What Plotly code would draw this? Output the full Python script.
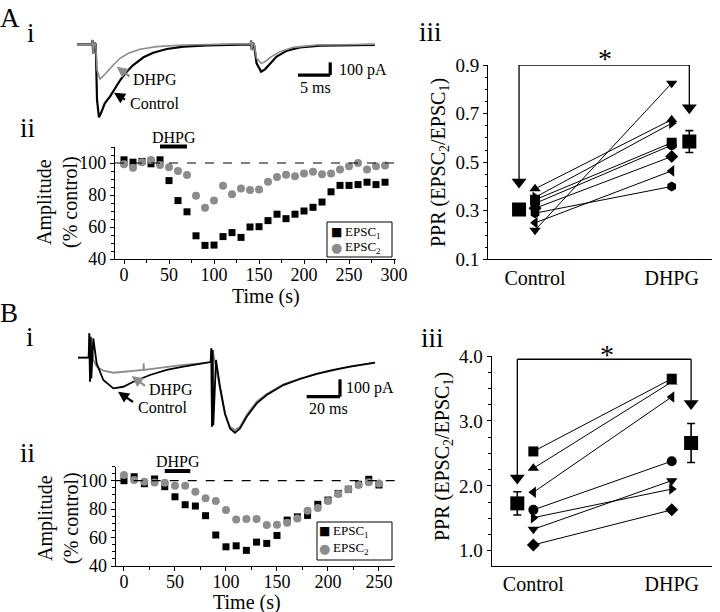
import plotly.graph_objects as go

W, H = 720, 612
def fx(p): return p / W
def fy(p): return 1 - p / H

SERIF = "Liberation Serif"
GRAY = "#8c8c8c"

# ---------------- A i : example EPSC pair (ms, pA) ----------------
ai_ctrl_t = [0, 2.3, 2.4, 2.5, 2.7, 2.9, 3.1, 3.4, 3.7, 4.3, 5.1, 5.9, 6.7, 7.7, 8.7, 10.3, 11.8, 13.9, 16.5, 20.1,
             24.2, 26.9, 26.95, 27.05, 27.2, 27.4, 27.8, 28.5, 29.1, 29.9, 30.9, 32.5, 34.5, 37.6, 42.3, 46.1]
ai_ctrl_i = [0, 0, 34, -71, 13, 0, -438, -575, -543, -465, -412, -347, -281, -215, -163, -102, -66, -37, -18, -8,
             -3, 0, 29, -45, 13, 0, -150, -215, -197, -150, -97, -50, -24, -10, -5, -5]
ai_dhpg_t = [0, 2.3, 2.4, 2.5, 2.7, 2.9, 3.1, 3.56, 4.08, 4.85, 5.62, 6.66, 7.95, 9.75, 12.3, 16.5, 24.2, 26.9, 26.95, 27.05,
             27.2, 27.4, 27.8, 28.5, 29.1, 30.1, 31.4, 33.5, 37.1, 46.1]
ai_dhpg_i = [0, 0, 34, -71, 13, 0, -202, -273, -249, -202, -163, -110, -71, -39, -18, -5, 3, 5, 29, -45,
             13, 5, -110, -150, -137, -97, -58, -24, -5, 0]

# ---------------- B i : example EPSC pair (ms, pA) ----------------
bi_ctrl_t = [0, 6.4, 6.8, 7.2, 7.6, 8.0, 9.2, 11.2, 15.2, 21.2, 27.2, 33.2, 43.2, 53.2, 63.2, 73.2, 79.6, 80.0, 80.4, 80.8,
             81.2, 82.8, 85.2, 88.2, 91.2, 94.2, 97.2, 101.2, 107.2, 113.2, 123.2, 133.2, 143.2, 153.2, 163.2, 178.2]
bi_ctrl_i = [0, 0, 141, -139, 121, -120, 112, -33, -129, -177, -168, -139, -100, -71, -52, -37, -25, 54, -399, 44,
             -390, -13, -168, -322, -409, -434, -409, -341, -264, -216, -158, -123, -94, -71, -52, -29]
bi_dhpg_t = [0, 6.4, 6.8, 7.2, 7.6, 9.2, 11.2, 15.2, 21.2, 33.2, 39.2, 39.4, 39.6, 43.2, 53.2, 63.2, 73.2, 79.6, 80.0, 80.4,
             80.8, 82.8, 85.2, 88.2, 91.2, 94.2, 97.2, 101.2, 107.2, 113.2, 123.2, 133.2, 143.2, 153.2, 163.2, 178.2]
bi_dhpg_i = [0, 0, 141, -139, 121, -13, -52, -75, -87, -79, -71, -33, -71, -66, -52, -42, -33, -25, 54, -399,
             44, -52, -187, -331, -399, -418, -399, -331, -254, -210, -154, -121, -94, -71, -52, -29]

# scale bars (ms, pA)
scale_A = dict(ms=5, pA=100)
scale_B = dict(ms=20, pA=100)

# ---------------- A ii : time course ----------------
time_A = [0, 10, 20, 30, 40, 50, 60, 70, 80, 90, 100, 110, 120, 130, 140, 150, 160, 170, 180, 190,
          200, 210, 220, 230, 240, 250, 260, 270, 280, 290]
epsc1_A = [102, 100.5, 101, 99.5, 102, 89, 76.5, 69.5, 54.5, 48.5, 48.7, 54, 56.5, 53.5, 60, 60.2, 64, 68, 65.2, 68,
           70, 72.3, 75.6, 82, 86, 86, 86.5, 88, 86.5, 88]
epsc2_A = [99.2, 97, 100.4, 101.9, 98.7, 97.3, 95, 92.5, 79.6, 72, 76.5, 85.8, 80.4, 84, 83.1, 83.5, 88.3, 91.2, 92.7, 91.7,
           93.5, 94.6, 92.9, 93.5, 96, 98, 100, 96, 98, 98.5]
dhpg_window_A = [40, 70]

# ---------------- B ii : time course ----------------
time_B = [0, 10, 20, 30, 40, 50, 60, 70, 80, 90, 100, 110, 120, 130, 140, 150, 160, 170, 180, 190,
          200, 210, 220, 230, 240, 250]
epsc1_B = [100, 102.8, 97.9, 101.2, 95.8, 88.7, 83.1, 82.2, 75.4, 61.8, 53.5, 54.2, 51, 56.8, 55.9, 61.5, 72.3, 74.6, 75.6, 83.4,
           86.4, 91.1, 94, 97.5, 101, 97]
epsc2_B = [104, 100.5, 99.3, 98.8, 98.6, 96.5, 96.5, 92.3, 87.6, 85.7, 79.4, 72.8, 73, 73, 68.8, 69.1, 70.5, 73.5, 78.8, 80.8,
           85.7, 90.6, 94, 97, 99, 98]
dhpg_window_B = [40, 65]

series_names = ["EPSC<sub>1</sub>", "EPSC<sub>2</sub>"]

# ---------------- A iii : PPR ----------------
symbols_A = ["triangle-up", "triangle-right", "square", "circle", "diamond", "hexagon", "triangle-left", "triangle-down"]
ppr_ctrl_A = [0.39, 0.355, 0.345, 0.33, 0.31, 0.29, 0.25, 0.22]
ppr_dhpg_A = [0.675, 0.66, 0.58, 0.57, 0.523, 0.40, 0.464, 0.825]
mean_A = [0.305, 0.585]
sem_A = [0.02, 0.045]

# ---------------- B iii : PPR ----------------
symbols_B = ["square", "triangle-up", "triangle-left", "circle", "triangle-right", "triangle-down", "diamond"]
ppr_ctrl_B = [2.53, 2.27, 1.9, 1.63, 1.51, 1.33, 1.09]
ppr_dhpg_B = [3.65, 3.6, 3.37, 2.38, 1.95, 2.08, 1.63]
mean_B = [1.73, 2.66]
sem_B = [0.18, 0.30]

groups = ["Control", "DHPG"]

fig = go.Figure()

def line_trace(t, i, color, width, xa, ya):
    fig.add_trace(go.Scatter(x=t, y=i, mode="lines", line=dict(color=color, width=width),
                             xaxis=xa, yaxis=ya, showlegend=False, hoverinfo="skip"))

# A i / B i traces
line_trace(ai_ctrl_t, ai_ctrl_i, "black", 2.2, "x", "y")
line_trace(ai_dhpg_t, ai_dhpg_i, GRAY, 1.6, "x", "y")
line_trace(bi_dhpg_t, bi_dhpg_i, GRAY, 1.8, "x4", "y4")
line_trace(bi_ctrl_t, bi_ctrl_i, "black", 1.8, "x4", "y4")

# time courses
for (t, e1, e2, xa, ya) in [(time_A, epsc1_A, epsc2_A, "x2", "y2"),
                            (time_B, epsc1_B, epsc2_B, "x5", "y5")]:
    fig.add_trace(go.Scatter(x=t, y=e1, mode="markers", name=series_names[0],
                             marker=dict(symbol="square", size=7, color="black"),
                             xaxis=xa, yaxis=ya, showlegend=False, cliponaxis=False))
    fig.add_trace(go.Scatter(x=t, y=e2, mode="markers", name=series_names[1],
                             marker=dict(symbol="circle", size=8, color=GRAY),
                             xaxis=xa, yaxis=ya, showlegend=False, cliponaxis=False))

# PPR panels
def ppr_panel(ctrl, dhpg, syms, means, sems, xa, ya, mean_x):
    xs, ys = [], []
    for c, d in zip(ctrl, dhpg):
        xs += [1, 2, None]
        ys += [c, d, None]
    fig.add_trace(go.Scatter(x=xs, y=ys, mode="lines", line=dict(color="black", width=1),
                             xaxis=xa, yaxis=ya, showlegend=False, hoverinfo="skip"))
    for c, d, s in zip(ctrl, dhpg, syms):
        fig.add_trace(go.Scatter(x=[1, 2], y=[c, d], mode="markers",
                                 marker=dict(symbol=s, size=10, color="black"),
                                 xaxis=xa, yaxis=ya, showlegend=False, cliponaxis=False))
    fig.add_trace(go.Scatter(x=mean_x, y=means, mode="markers",
                             marker=dict(symbol="square", size=14, color="black"),
                             error_y=dict(type="data", array=sems, color="black", thickness=1.6, width=4),
                             xaxis=xa, yaxis=ya, showlegend=False, cliponaxis=False))

ppr_panel(ppr_ctrl_A, ppr_dhpg_A, symbols_A, mean_A, sem_A, "x3", "y3", [0.883, 2.129])
ppr_panel(ppr_ctrl_B, ppr_dhpg_B, symbols_B, mean_B, sem_B, "x6", "y6", [0.884, 2.14])

shapes = []
def bracket(xa, ya, xc, xd, top, yc, yd):
    for (x0, y0, x1, y1) in [(xc, yc, xc, top), (xc, top, xd, top), (xd, top, xd, yd)]:
        shapes.append(dict(type="line", xref=xa, yref=ya, x0=x0, y0=y0, x1=x1, y1=y1,
                           line=dict(color="black", width=1.3)))
    fig.add_trace(go.Scatter(x=[xc, xd], y=[yc, yd], mode="markers",
                             marker=dict(symbol="triangle-down", size=13, color="black"),
                             xaxis=xa, yaxis=ya, showlegend=False, cliponaxis=False))

bracket("x3", "y3", 0.883, 2.129, 0.9, 0.418, 0.724)
bracket("x6", "y6", 0.884, 2.14, 3.95, 2.12, 3.27)

# dashed 100% lines and DHPG bars
for xa, ya in [("x2", "y2"), ("x5", "y5")]:
    shapes.append(dict(type="line", xref=xa + " domain", yref=ya, x0=0, x1=1, y0=100, y1=100,
                       line=dict(color="black", width=1.2, dash="dash")))
shapes.append(dict(type="line", xref="x2", yref="paper", x0=dhpg_window_A[0], x1=dhpg_window_A[1],
                   y0=fy(146.5), y1=fy(146.5), line=dict(color="black", width=4)))
shapes.append(dict(type="line", xref="x5", yref="paper", x0=dhpg_window_B[0], x1=dhpg_window_B[1],
                   y0=fy(471), y1=fy(471), line=dict(color="black", width=4)))

# legend boxes
shapes.append(dict(type="rect", xref="paper", yref="paper", x0=fx(327), x1=fx(392), y0=fy(257), y1=fy(222),
                   line=dict(color="black", width=1), fillcolor="white", layer="below"))
shapes.append(dict(type="rect", xref="paper", yref="paper", x0=fx(317), x1=fx(392), y0=fy(560), y1=fy(522),
                   line=dict(color="black", width=1), fillcolor="white", layer="below"))

# scale bars
def scalebar(xa, ya, x_end, y0, sb):
    shapes.append(dict(type="line", xref=xa, yref=ya, x0=x_end - sb["ms"], x1=x_end, y0=y0, y1=y0,
                       line=dict(color="black", width=3.2)))
    shapes.append(dict(type="line", xref=xa, yref=ya, x0=x_end, x1=x_end, y0=y0, y1=y0 + sb["pA"],
                       line=dict(color="black", width=3.2)))

scalebar("x", "y", 39.2, -242, scale_A)
scalebar("x4", "y4", 157.2, -225, scale_B)

ann = []
def text(x, y, s, size=20, xanchor="center", angle=0, color="black", family=SERIF):
    ann.append(dict(x=fx(x), y=fy(y), xref="paper", yref="paper", text=s, showarrow=False,
                    xanchor=xanchor, yanchor="middle", textangle=angle,
                    font=dict(family=family, size=size, color=color)))

def data_text(x, y, xr, yr, s, xanchor="center"):
    ann.append(dict(x=x, y=y, xref=xr, yref=yr, text=s, showarrow=False, xanchor=xanchor, yanchor="middle",
                    font=dict(family=SERIF, size=16, color="black")))

def arrow(hx, hy, tx, ty, color):
    ann.append(dict(x=fx(hx), y=fy(hy), xref="paper", yref="paper", text="", showarrow=True,
                    ax=tx - hx, ay=ty - hy, arrowhead=2, arrowsize=1, arrowwidth=2.2, arrowcolor=color))

# panel labels
text(10, 18, "A", 27)
text(31, 33, "i", 27)
text(27, 128, "ii", 27)
text(430, 32, "iii", 27)
text(9, 313, "B", 27)
text(30, 337, "i", 27)
text(27, 453, "ii", 27)
text(432, 338, "iii", 27)

# A i labels
text(155, 80, "DHPG", 16)
text(154, 103, "Control", 16)
arrow(116.7, 66.7, 131, 77.5, GRAY)
arrow(114, 92.7, 126.5, 100.5, "black")
data_text(40.2, -202, "x", "y", "100 pA", "left")
data_text(34.2, -337, "x", "y", "5 ms", "left")

# B i labels
text(171, 389, "DHPG", 16)
text(162, 407, "Control", 16)
arrow(131.7, 376, 146.5, 387, GRAY)
arrow(118, 391.7, 134.5, 403, "black")
data_text(159.5, -175, "x4", "y4", "100 pA", "left")
data_text(137.2, -291, "x4", "y4", "20 ms", "left")

# DHPG bar labels
data_text(sum(dhpg_window_A) / 2, fy(137), "x2", "paper", "DHPG")
data_text(sum(dhpg_window_B) / 2, fy(461.5), "x5", "paper", "DHPG")

# legend entries
for (mx, tx, y1, y2) in [(336, 343, 232, 247), (324, 331, 531, 548)]:
    text(mx, y1, "■", 12, family="DejaVu Sans")
    text(mx, y2, "●", 13, family="DejaVu Sans", color=GRAY)
    text(tx, y1, series_names[0], 13, xanchor="left")
    text(tx, y2, series_names[1], 13, xanchor="left")

# axis titles
text(58, 202, "Amplitude<br>(% control)", 20, angle=-90)
text(58, 518, "Amplitude<br>(% control)", 20, angle=-90)
text(266, 296, "Time (s)", 20)
text(247, 602, "Time (s)", 20)
text(440, 163, "PPR (EPSC<sub>2</sub>/EPSC<sub>1</sub>)", 20, angle=-90)
text(443, 457, "PPR (EPSC<sub>2</sub>/EPSC<sub>1</sub>)", 20, angle=-90)

# asterisks
text(605, 59, "*", 28)
text(607, 354, "*", 28)

tickfont_s = dict(family=SERIF, size=18, color="black")
tickfont_l = dict(family=SERIF, size=19, color="black")
hidden = dict(visible=False, showgrid=False, zeroline=False)

def lin_axis(domain, rng, anchor, dtick, tick0, minor_dtick, font, fmt=None, ticklen=4, standoff=0):
    d = dict(domain=domain, range=rng, anchor=anchor, showline=True, linecolor="black", linewidth=1.4,
             ticks="outside", ticklen=ticklen, tickwidth=1.2, tickcolor="black", dtick=dtick, tick0=tick0,
             minor=dict(ticks="outside", ticklen=2.5, dtick=minor_dtick, tick0=tick0, tickcolor="black", tickwidth=1),
             showgrid=False, zeroline=False, tickfont=font, automargin=False, ticklabelstandoff=standoff)
    if fmt:
        d["tickformat"] = fmt
    return d

def cat_axis(domain, rng, anchor):
    return dict(domain=domain, range=rng, anchor=anchor, showline=True,
                linecolor="black", linewidth=1.4, ticks="",
                tickvals=[1, 2], ticktext=groups, showgrid=False, zeroline=False, automargin=False,
                tickfont=dict(family=SERIF, size=20, color="black"))

fig.update_layout(
    width=W, height=H, autosize=False,
    margin=dict(l=0, r=0, t=0, b=0, pad=0, autoexpand=False),
    paper_bgcolor="white", plot_bgcolor="white", showlegend=False,
    shapes=shapes, annotations=ann,
    xaxis=dict(domain=[fx(77), fx(400)], range=[0, 50], anchor="y", **hidden),
    yaxis=dict(domain=[fy(125), fy(30)], range=[-635, 112.6], anchor="x", **hidden),
    xaxis4=dict(domain=[fx(70), fx(400)], range=[-4.8, 193.2], anchor="y4", **hidden),
    yaxis4=dict(domain=[fy(440), fy(325)], range=[-475.7, 189], anchor="x4", **hidden),
    xaxis2=lin_axis([fx(115), fx(396)], [-10, 302.2], "y2", 50, 0, 25, tickfont_s, standoff=-5),
    yaxis2=lin_axis([fy(259), fy(147)], [40, 110], "x2", 20, 0, 5, tickfont_s),
    xaxis5=lin_axis([fx(115.7), fx(395)], [-8.1, 265.7], "y5", 50, 0, 25, tickfont_s, standoff=-5),
    yaxis5=lin_axis([fy(566), fy(466.5)], [40, 110], "x5", 20, 0, 5, tickfont_s),
    xaxis3=cat_axis([fx(488.3), fx(712)], [0.658, 2.295], "y3"),
    yaxis3=lin_axis([fy(259.3), fy(65)], [0.1, 0.9], "x3", 0.2, 0.1, 0.05, tickfont_l, ".1f"),
    xaxis6=cat_axis([fx(491.7), fx(712)], [0.699, 2.291], "y6"),
    yaxis6=lin_axis([fy(565.7), fy(356)], [0.77, 4.0], "x6", 1, 0, 0.25, tickfont_l, ".1f"),
)

fig.write_html("out.html", config={"displayModeBar": False},
               post_script="document.body.style.margin='0';document.body.style.padding='0';")
